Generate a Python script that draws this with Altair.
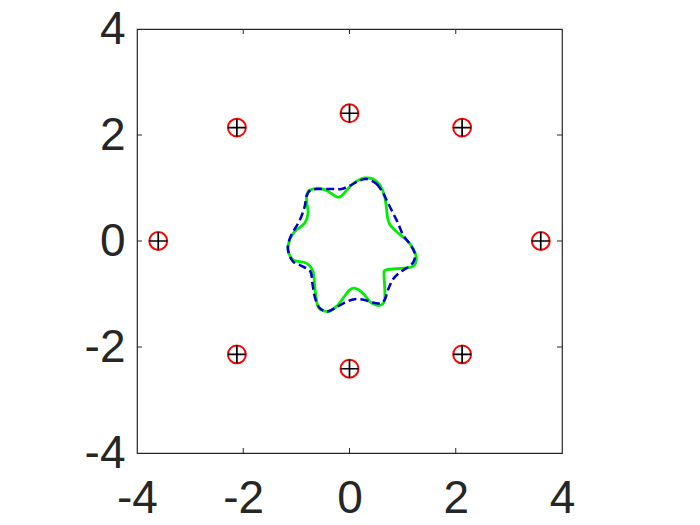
import altair as alt
import pandas as pd

# Sensor points
px = [3.6, 2.12, 0.0, -2.12, -3.6, -2.12, 0.0, 2.12]
py = [0.0, 2.14, 2.41, 2.14, 0.0, -2.14, -2.41, -2.14]

# Green solid closed curve (clockwise from top)
gx = [0.317, 0.443, 0.568, 0.662, 0.725, 0.788, 0.882, 1.070, 1.195, 1.258, 1.195, 1.007,
      0.694, 0.650, 0.662, 0.662, 0.600, 0.506, 0.380, 0.255, 0.098, 0.004, -0.122, -0.247,
      -0.404, -0.529, -0.592, -0.623, -0.655, -0.686, -0.811, -1.062, -1.157, -1.125, -1.031,
      -0.843, -0.780, -0.811, -0.780, -0.717, -0.592, -0.435, -0.278, -0.184, -0.090, 0.066, 0.223]
gy = [1.189, 1.170, 1.062, 0.842, 0.401, 0.275, 0.180, 0.023, -0.135, -0.324, -0.481, -0.513,
      -0.544, -0.607, -0.860, -1.112, -1.206, -1.206, -1.143, -0.986, -0.891, -0.922, -1.080, -1.238,
      -1.332, -1.301, -1.238, -1.112, -0.860, -0.576, -0.418, -0.355, -0.166, 0.023, 0.180,
      0.338, 0.527, 0.779, 0.936, 0.968, 0.999, 0.955, 0.854, 0.829, 0.917, 1.081, 1.176]

# Blue dashed closed curve (clockwise from top)
bx = [0.317, 0.506, 0.631, 0.725, 0.819, 0.913, 1.007, 1.133, 1.227, 1.208, 1.101, 0.944,
      0.819, 0.725, 0.662, 0.568, 0.443, 0.286, 0.098, -0.090, -0.278, -0.435, -0.573, -0.655,
      -0.699, -0.736, -0.906, -1.062, -1.144, -1.157, -1.094, -1.000, -0.906, -0.843, -0.811,
      -0.736, -0.561, -0.341, -0.153, 0.004, 0.160]
by = [1.170, 1.081, 0.905, 0.716, 0.527, 0.338, 0.117, -0.053, -0.229, -0.387, -0.494, -0.595,
      -0.721, -0.922, -1.112, -1.175, -1.162, -1.112, -1.099, -1.162, -1.269, -1.332, -1.250, -1.049,
      -0.796, -0.576, -0.469, -0.387, -0.229, -0.072, 0.117, 0.275, 0.464, 0.653, 0.842,
      0.955, 0.981, 0.981, 0.981, 1.043, 1.125]

tick_vals = [-4, -2, 0, 2, 4]
inner_ticks = [-2, 0, 2]

W, H = 425, 424
TXT = "#262626"

xs = alt.Scale(domain=[-4, 4], nice=False, zero=False)
ys = alt.Scale(domain=[-4, 4], nice=False, zero=False)
xax = alt.Axis(values=tick_vals, title=None, grid=False, domain=False, ticks=False,
               labelFontSize=46, labelFont="Liberation Sans", labelColor=TXT,
               labelExpr="toString(datum.value)",
               labelPadding=23, labelFlush=False, labelOverlap=False)
yax = alt.Axis(values=tick_vals, title=None, grid=False, domain=False, ticks=False,
               labelFontSize=46, labelFont="Liberation Sans", labelColor=TXT,
               labelExpr="toString(datum.value)",
               labelPadding=12, labelFlush=False, labelOverlap=False)

gdf = pd.DataFrame({"x": gx, "y": gy, "i": range(len(gx))})
bdf = pd.DataFrame({"x": bx, "y": by, "i": range(len(bx))})
pdf = pd.DataFrame({"x": px, "y": py})
tdf = pd.DataFrame({"v": inner_ticks})

green = alt.Chart(gdf).mark_line(color="#00ee00", strokeWidth=2.8, interpolate="cardinal-closed").encode(
    x=alt.X("x:Q", scale=xs, axis=xax),
    y=alt.Y("y:Q", scale=ys, axis=yax),
    order="i:O",
)
blue = alt.Chart(bdf).mark_line(color="#0000cc", strokeWidth=2.5, strokeDash=[8, 4],
                                interpolate="cardinal-closed").encode(
    x=alt.X("x:Q", scale=xs),
    y=alt.Y("y:Q", scale=ys),
    order="i:O",
)
circles = alt.Chart(pdf).mark_point(shape="circle", filled=False, color="#ff0000",
                                    strokeWidth=2, size=320, opacity=1).encode(
    x=alt.X("x:Q", scale=xs), y=alt.Y("y:Q", scale=ys))
pluses = alt.Chart(pdf).mark_point(shape="M-1,0L1,0M0,-1L0,1", filled=False, color="#000000",
                                   strokeWidth=1.7, size=320, opacity=1).encode(
    x=alt.X("x:Q", scale=xs), y=alt.Y("y:Q", scale=ys))

tl = 5
tick_color = TXT
t_top = alt.Chart(tdf).mark_rule(color=tick_color, strokeWidth=1).encode(
    x=alt.X("v:Q", scale=xs), y=alt.value(0), y2=alt.value(tl))
t_bot = alt.Chart(tdf).mark_rule(color=tick_color, strokeWidth=1).encode(
    x=alt.X("v:Q", scale=xs), y=alt.value(H), y2=alt.value(H - tl))
t_left = alt.Chart(tdf).mark_rule(color=tick_color, strokeWidth=1).encode(
    y=alt.Y("v:Q", scale=ys), x=alt.value(0), x2=alt.value(tl))
t_right = alt.Chart(tdf).mark_rule(color=tick_color, strokeWidth=1).encode(
    y=alt.Y("v:Q", scale=ys), x=alt.value(W), x2=alt.value(W - tl))

chart = alt.layer(green, blue, circles, pluses, t_top, t_bot, t_left, t_right).properties(
    width=W, height=H, autosize="none",
    padding={"left": 129, "top": 21, "right": 130, "bottom": 70},
    background="white",
).configure_view(stroke=TXT, strokeWidth=1.2)

chart.save("out.html", embed_options={"renderer": "svg", "actions": False})
